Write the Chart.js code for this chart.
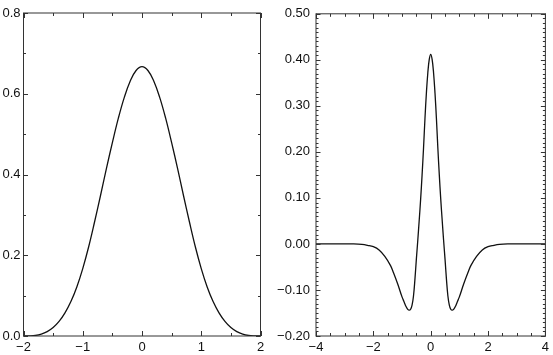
<!DOCTYPE html>
<html>
<head>
<meta charset="utf-8">
<script src="https://cdn.jsdelivr.net/npm/chart.js@4/dist/chart.umd.min.js"></script>
<style>
  html, body { margin: 0; padding: 0; background: #fff; }
  #wrap { position: relative; width: 553px; height: 355px; }
  .box { position: absolute; top: 0; height: 355px; }
  #leftBox { left: 0; width: 272px; }
  #rightBox { left: 272px; width: 281px; }
</style>
</head>
<body>
<div id="wrap">
  <div class="box" id="leftBox"><canvas id="leftCanvas"></canvas></div>
  <div class="box" id="rightBox"><canvas id="rightCanvas"></canvas></div>
</div>
<script>
// left panel: smooth bump
var leftX = [-2.0, -1.9, -1.8, -1.7, -1.6, -1.5, -1.4, -1.3, -1.2, -1.1, -1.0, -0.9, -0.8, -0.7, -0.6, -0.5, -0.4, -0.3, -0.2, -0.1,
             0.0, 0.1, 0.2, 0.3, 0.4, 0.5, 0.6, 0.7, 0.8, 0.9, 1.0, 1.1, 1.2, 1.3, 1.4, 1.5, 1.6, 1.7, 1.8, 1.9, 2.0];
var leftY = [0.0, 0.0002, 0.0013, 0.0045, 0.0107, 0.0208, 0.036, 0.0572, 0.0853, 0.1215, 0.167, 0.221, 0.283, 0.348, 0.415, 0.479, 0.539, 0.5905, 0.631, 0.6575,
             0.667, 0.6575, 0.631, 0.5905, 0.539, 0.479, 0.415, 0.348, 0.283, 0.221, 0.167, 0.1215, 0.0853, 0.0572, 0.036, 0.0208, 0.0107, 0.0045, 0.0013, 0.0002, 0.0];

// right panel: wavelet
var rightX = [-4.0, -3.0, -2.7, -2.4, -2.2, -2.0, -1.8, -1.6, -1.4, -1.3, -1.15, -1.0, -0.92, -0.86, -0.8, -0.75, -0.7, -0.65, -0.6, -0.55, -0.5, -0.45, -0.4, -0.35, -0.3, -0.25, -0.2, -0.15, -0.1, -0.05,
              0.0, 0.05, 0.1, 0.15, 0.2, 0.25, 0.3, 0.35, 0.4, 0.45, 0.5, 0.55, 0.6, 0.65, 0.7, 0.75, 0.8, 0.86, 0.92, 1.0, 1.15, 1.3, 1.4, 1.6, 1.8, 2.0, 2.2, 2.4, 2.7, 3.0, 4.0];
var rightY = [0.0, 0.0, 0.0, -0.001, -0.003, -0.006, -0.013, -0.027, -0.047, -0.062, -0.087, -0.115, -0.127, -0.136, -0.142, -0.144, -0.142, -0.133, -0.113, -0.077, -0.033, 0.008, 0.052, 0.098, 0.150, 0.208, 0.272, 0.328, 0.372, 0.401,
              0.412, 0.401, 0.372, 0.328, 0.272, 0.208, 0.150, 0.098, 0.052, 0.008, -0.033, -0.077, -0.113, -0.133, -0.142, -0.144, -0.142, -0.136, -0.127, -0.115, -0.087, -0.062, -0.047, -0.027, -0.013, -0.006, -0.003, -0.001, 0.0, 0.0, 0.0];

// tick labels
var leftXTicks = [-2, -1, 0, 1, 2];
var leftYTicks = [0.0, 0.2, 0.4, 0.6, 0.8];
var rightXTicks = [-4, -2, 0, 2, 4];
var rightYTicks = [-0.2, -0.1, 0.0, 0.1, 0.2, 0.3, 0.4, 0.5];

function pts(xs, ys) {
    var out = [];
    for (var i = 0; i < xs.length; i++) out.push({x: xs[i], y: ys[i]});
    return out;
}

function minus(s) { return s.replace('-', '\u2212'); }

function steps(a, b, d) {
    var out = [];
    for (var v = a; v <= b + d / 2; v += d) out.push(Math.round(v * 1000) / 1000);
    return out;
}

// frame plus inward ticks on all four sides
var framePlugin = {
    id: 'frame',
    afterDatasetsDraw: function(chart, args, opts) {
        var ctx = chart.ctx, a = chart.chartArea;
        var sx = chart.scales.x, sy = chart.scales.y;
        ctx.save();
        ctx.strokeStyle = '#333';
        ctx.lineWidth = 1;
        ctx.strokeRect(a.left, a.top, a.right - a.left, a.bottom - a.top);
        function xt(list, len) {
            list.forEach(function(v) {
                var p = Math.round(sx.getPixelForValue(v)) + 0.5;
                ctx.beginPath();
                ctx.moveTo(p, a.bottom); ctx.lineTo(p, a.bottom - len);
                ctx.moveTo(p, a.top); ctx.lineTo(p, a.top + len);
                ctx.stroke();
            });
        }
        function yt(list, len) {
            list.forEach(function(v) {
                var p = Math.round(sy.getPixelForValue(v)) + 0.5;
                ctx.beginPath();
                ctx.moveTo(a.left, p); ctx.lineTo(a.left + len, p);
                ctx.moveTo(a.right, p); ctx.lineTo(a.right - len, p);
                ctx.stroke();
            });
        }
        xt(opts.xMinor, 3); xt(opts.xMajor, 5);
        yt(opts.yMinor, 2.5); yt(opts.yMajor, 4.5);
        ctx.restore();
    }
};

var font = {family: '"Liberation Sans", Arial, sans-serif', size: 13};

function makeChart(id, data, xr, yr, xStep, yStep, digits, pad, yPad, yWidth, frameOpts) {
    return new Chart(document.getElementById(id), {
        type: 'line',
        data: {
            datasets: [{
                data: data,
                borderColor: '#111',
                borderWidth: 1.3,
                pointRadius: 0,
                fill: false,
                tension: 0.4
            }]
        },
        options: {
            responsive: true,
            maintainAspectRatio: false,
            animation: false,
            events: [],
            layout: {padding: pad},
            plugins: {legend: {display: false}, tooltip: {enabled: false}, frame: frameOpts},
            scales: {
                x: {
                    type: 'linear', min: xr[0], max: xr[1],
                    grid: {display: false, drawTicks: false},
                    border: {display: false},
                    ticks: {
                        stepSize: xStep, padding: 4, color: '#111', font: font, maxRotation: 0,
                        callback: function(v) { return minus(String(Math.round(v))); }
                    },
                    afterFit: function(s) { s.height = 19; }
                },
                y: {
                    min: yr[0], max: yr[1],
                    grid: {display: false, drawTicks: false},
                    border: {display: false},
                    ticks: {
                        stepSize: yStep, padding: yPad, color: '#111', font: font,
                        callback: function(v) {
                            if (Math.abs(v) < 1e-9) v = 0;
                            return minus(v.toFixed(digits));
                        }
                    },
                    afterFit: function(s) { s.width = yWidth; }
                }
            }
        },
        plugins: [framePlugin]
    });
}

makeChart('leftCanvas', pts(leftX, leftY),
    [leftXTicks[0], leftXTicks[leftXTicks.length - 1]],
    [leftYTicks[0], leftYTicks[leftYTicks.length - 1]],
    1, 0.2, 1,
    {top: 13, right: 11.5, left: 0, bottom: 0}, 3, 23.5,
    {xMajor: leftXTicks, xMinor: steps(-1.5, 1.5, 1), yMajor: leftYTicks, yMinor: steps(0.1, 0.7, 0.2)});

makeChart('rightCanvas', pts(rightX, rightY),
    [rightXTicks[0], rightXTicks[rightXTicks.length - 1]],
    [rightYTicks[0], rightYTicks[rightYTicks.length - 1]],
    2, 0.1, 2,
    {top: 9, right: 6, left: 0, bottom: 0}, 6, 44,
    {xMajor: rightXTicks, xMinor: steps(-4, 4, 0.5), yMajor: rightYTicks, yMinor: steps(-0.2, 0.5, 0.01)});
</script>
</body>
</html>
